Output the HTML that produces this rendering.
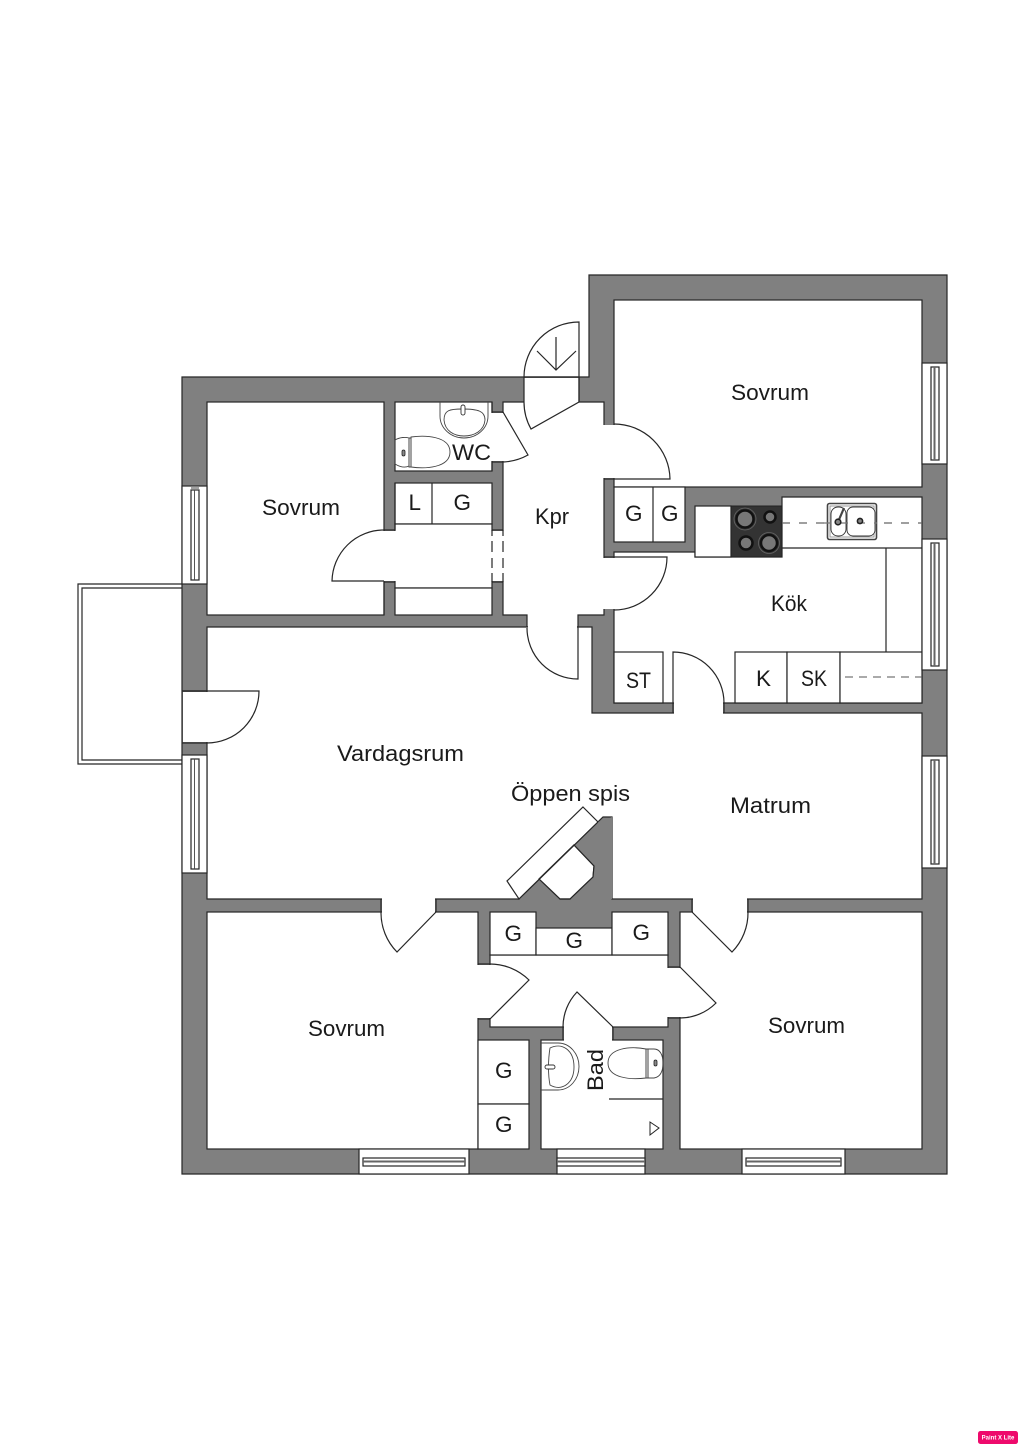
<!DOCTYPE html>
<html><head><meta charset="utf-8"><style>
html,body{margin:0;padding:0;background:#fff;width:1024px;height:1448px;overflow:hidden}
svg{display:block}
text{font-family:"Liberation Sans",sans-serif;fill:#1a1a1a;font-size:22.5px}
.w{fill:#fff;stroke:#262626;stroke-width:1.2}
.n{fill:#fff;stroke:none}
.l{fill:none;stroke:#262626;stroke-width:1.2}
.f{fill:#fff;stroke:#333;stroke-width:.9}
.m{fill:none;stroke:#444;stroke-width:.9}
</style></head><body>
<svg width="1024" height="1448" viewBox="0 0 1024 1448" xmlns="http://www.w3.org/2000/svg">
<!-- balcony -->
<path class="l" d="M182 584H78V764H182M182 588H82V760H182"/>
<!-- outer -->
<polygon points="182,377 589,377 589,275 947,275 947,1174 182,1174" fill="#808080" stroke="#262626" stroke-width="1.2"/>
<!-- rooms -->
<rect class="w" x="207" y="402" width="177" height="213"/>
<rect class="w" x="395" y="402" width="97" height="69"/>
<rect class="w" x="395" y="483" width="97" height="41"/>
<rect class="w" x="395" y="524" width="97" height="64"/>
<rect class="w" x="395" y="588" width="97" height="27"/>
<path class="l" d="M432 483V524"/>
<polygon class="w" points="503,402 604,402 604,615 578,615 578,627 527,627 527,615 503,615"/>
<rect class="w" x="614" y="300" width="308" height="187"/>
<polygon class="w" points="614,552 695,552 695,557 782,557 782,497 922,497 922,703 614,703"/>
<rect class="w" x="614" y="487" width="71" height="55"/>
<path class="l" d="M653 487V542"/>
<polygon class="w" points="207,627 592,627 592,713 922,713 922,899 612,899 612,817 603,817 519,899 207,899"/>
<rect class="w" x="207" y="912" width="271" height="237"/>
<rect class="w" x="680" y="912" width="242" height="237"/>
<rect class="w" x="490" y="955" width="178" height="72"/>
<rect class="w" x="490" y="912" width="46" height="43"/>
<rect class="w" x="536" y="928" width="76" height="27"/>
<rect class="w" x="612" y="912" width="56" height="43"/>
<rect class="w" x="541" y="1040" width="122" height="109"/>
<rect class="w" x="478" y="1040" width="51" height="64"/>
<rect class="w" x="478" y="1104" width="51" height="45"/>
<!-- door gaps -->
<rect class="n" x="524" y="378" width="55" height="25"/>
<path class="l" d="M524 377H579M579 377V402"/>
<rect class="n" x="491" y="413" width="13" height="48"/>
<path class="l" d="M492 402V412H503M492 471V462H503"/>
<rect class="n" x="603" y="425" width="12" height="53"/>
<rect class="n" x="603" y="558" width="12" height="51"/>
<rect class="n" x="383" y="531" width="13" height="50"/>
<rect class="n" x="491" y="531" width="13" height="50"/>
<path class="l" d="M384 530H395M384 582H395M492 530H503M492 582H503M384 582V615M395 530V483"/>
<rect class="n" x="528" y="614" width="49" height="14"/>
<rect class="n" x="674" y="702" width="49" height="12"/>
<path class="l" d="M673 703V713M724 703V713"/>
<rect class="n" x="382" y="898" width="53" height="15"/>
<path class="l" d="M381 899V912M436 899V912"/>
<rect class="n" x="693" y="898" width="54" height="15"/>
<path class="l" d="M692 899V912M748 899V912"/>
<rect class="n" x="477" y="965" width="14" height="53"/>
<path class="l" d="M478 964H490M478 1019H490"/>
<rect class="n" x="667" y="968" width="14" height="49"/>
<path class="l" d="M668 967H680M668 1018H680"/>
<rect class="n" x="564" y="1026" width="48" height="15"/>
<path class="l" d="M563 1027V1040M613 1027V1040"/>
<rect class="n" x="183" y="692" width="25" height="50"/>
<path class="l" d="M182 691H207M182 743H207"/>
<!-- doors -->
<path class="l" d="M524 377A55 55 0 0 1 579 322V402L531 429A55 55 0 0 1 524 402V377"/>
<path class="l" d="M556 337V370M537 351L556 370L576 351" stroke-width="1.3"/>
<path class="l" d="M503 412L528 455A56 56 0 0 1 503 462"/>
<path class="l" d="M614 424A56 56 0 0 1 670 479H604"/>
<path class="l" d="M604 557H667A53 53 0 0 1 614 610"/>
<path class="l" d="M384 530A52 52 0 0 0 332 581H384"/>
<path class="l" d="M492 530V536M492 541V552M492 558V568M492 573V582M503 530V536M503 541V552M503 558V568M503 573V582"/>
<path class="l" d="M578 627V679A51 51 0 0 1 527 628"/>
<path class="l" d="M673 703V652A51 51 0 0 1 724 703"/>
<path class="l" d="M182 691H259A52 52 0 0 1 207 743"/>
<path class="l" d="M381 912A56 56 0 0 0 397 952L436 912"/>
<path class="l" d="M692 912L732 952A56 56 0 0 0 748 912"/>
<path class="l" d="M490 964A56 56 0 0 1 529 980L490 1019"/>
<path class="l" d="M680 967L716 1003A51 51 0 0 1 680 1018"/>
<path class="l" d="M563 1027A51 51 0 0 1 577 992L613 1027"/>
<!-- fireplace -->
<polygon class="w" points="583,807 598,822 519,899 507,881"/>
<polygon class="w" points="574,845 594,866 593,877 570,899 560,899 539,879"/>
<path d="M519 899L539 879L560 899Z M574 845L598 822L612 817V899H570L593 877L594 866Z" fill="#808080"/>
<path class="l" d="M598 822L519 899M539 879L574 845L594 866L593 877L570 899H560L539 879"/>
<!-- kitchen -->
<rect class="w" x="695" y="506" width="36" height="51"/>
<rect x="731" y="506" width="51" height="51" fill="#333" stroke="#222"/>
<g fill="#777" stroke="#111" stroke-width="2.5">
<circle cx="745" cy="519" r="8.5"/><circle cx="770" cy="517" r="5.5"/><circle cx="746" cy="543" r="6.5"/><circle cx="769" cy="543" r="8"/>
</g>
<g fill="none" stroke="#666" stroke-width=".8"><circle cx="745" cy="519" r="11"/><circle cx="769" cy="543" r="10.5"/></g>
<path class="l" d="M782 548H922M886 548V652"/>
<path d="M782 523H922" stroke="#666" stroke-width="1.3" stroke-dasharray="8 9" fill="none"/>
<rect x="827.5" y="503.5" width="49" height="36" rx="2" fill="#fff" stroke="#444" stroke-width="1.6"/>
<rect x="830" y="506" width="44" height="31" fill="none" stroke="#999" stroke-width="1"/>
<rect x="831" y="507" width="15" height="29" rx="7" class="f"/>
<rect x="847" y="507" width="28" height="29" rx="6" class="f"/>
<path d="M823 523H877" stroke="#777" stroke-width="1.2" stroke-dasharray="8 9" fill="none"/>
<path d="M838 522L844 508" stroke="#444" stroke-width="2.2" fill="none"/>
<circle cx="838" cy="522" r="2.8" fill="#888" stroke="#222" stroke-width="1.6"/>
<circle cx="860" cy="521" r="2.6" fill="#888" stroke="#222" stroke-width="1.6"/>
<rect class="w" x="614" y="652" width="49" height="51"/>
<rect class="w" x="735" y="652" width="52" height="51"/>
<rect class="w" x="787" y="652" width="53" height="51"/>
<rect class="w" x="840" y="652" width="82" height="51"/>
<path d="M845 677H922" stroke="#555" stroke-width=".9" stroke-dasharray="8 6" fill="none"/>
<!-- WC fixtures -->
<path class="m" d="M440 402V416A24 22 0 0 0 488 416V402"/>
<path class="m" d="M444 420C444 410 450 409 462 409C478 409 485 411 485 420C484 431 474 436 464 436C454 436 445 431 444 420Z"/>
<rect class="f" x="461" y="405" width="4" height="10" rx="2"/>
<path class="m" d="M395 440C400 437 406 437 409 438V466C405 468 400 467 395 464Z"/>
<path class="m" d="M411 437C425 435 450 436 450 452C450 468 425 469 411 467Z"/>
<path class="m" d="M409 438H411V467H409Z"/>
<rect x="402" y="450" width="3" height="6" rx="1.5" fill="#888" stroke="#222" stroke-width=".8"/>
<!-- Bad fixtures -->
<path class="m" d="M541 1043H558A21 23.5 0 0 1 558 1090H541"/>
<path class="m" d="M550 1048C562 1042 574 1050 574 1067C574 1083 562 1092 550 1085C548 1075 548 1060 550 1048Z"/>
<rect class="f" x="545" y="1065" width="10" height="4" rx="2"/>
<path class="m" d="M646 1049C630 1046 608 1048 608 1063C608 1078 630 1080 646 1078Z"/>
<path class="m" d="M648 1049H654C660 1049 663 1055 663 1063C663 1072 660 1077 654 1078H648Z"/>
<path class="m" d="M646 1049H648V1078H646Z"/>
<rect x="654" y="1060" width="3" height="6" rx="1.5" fill="#888" stroke="#222" stroke-width=".8"/>
<path class="l" d="M609 1099H663" stroke="#555"/>
<polygon points="650,1122 659,1128 650,1135" fill="#fff" stroke="#222" stroke-width="1"/>
<!-- windows left -->
<g>
<rect class="w" x="182" y="486" width="25" height="98"/>
<rect class="w" x="191" y="490" width="8" height="90" stroke-width=".9"/><path class="m" d="M194.5 490V580M191 488H199"/>
<rect class="w" x="182" y="755" width="25" height="118"/>
<rect class="w" x="191" y="759" width="8" height="110" stroke-width=".9"/><path class="m" d="M194.5 759V869"/>
<!-- windows right -->
<rect class="w" x="922" y="363" width="25" height="101"/>
<rect class="w" x="931" y="367" width="8" height="93" stroke-width=".9"/><path d="M934.5 367V460" stroke="#666" stroke-width="2"/>
<rect class="w" x="922" y="539" width="25" height="131"/>
<rect class="w" x="931" y="543" width="8" height="123" stroke-width=".9"/><path d="M934.5 543V666" stroke="#666" stroke-width="2"/>
<rect class="w" x="922" y="756" width="25" height="112"/>
<rect class="w" x="931" y="760" width="8" height="104" stroke-width=".9"/><path d="M934.5 760V864" stroke="#666" stroke-width="2"/>
<!-- windows bottom -->
<rect class="w" x="359" y="1149" width="110" height="25"/>
<rect class="w" x="363" y="1158" width="102" height="8" stroke-width=".9"/><path d="M363 1161.5H465" stroke="#666" stroke-width="2"/>
<rect class="w" x="557" y="1149" width="88" height="25"/>
<rect class="w" x="557" y="1158" width="88" height="8" stroke-width=".9"/><path d="M557 1161.5H645" stroke="#666" stroke-width="2"/>
<rect class="w" x="742" y="1149" width="103" height="25"/>
<rect class="w" x="746" y="1158" width="95" height="8" stroke-width=".9"/><path d="M746 1161.5H841" stroke="#666" stroke-width="2"/>
</g>
<!-- labels -->
<text x="731" y="400" textLength="78" lengthAdjust="spacingAndGlyphs">Sovrum</text>
<text x="262" y="515" textLength="78" lengthAdjust="spacingAndGlyphs">Sovrum</text>
<text x="535" y="524" textLength="34" lengthAdjust="spacingAndGlyphs">Kpr</text>
<text x="452" y="460" textLength="39" lengthAdjust="spacingAndGlyphs">WC</text>
<text x="408.500" y="510">L</text>
<text x="453.500" y="510">G</text>
<text x="625" y="521">G</text>
<text x="661" y="521">G</text>
<text x="771" y="611" textLength="36" lengthAdjust="spacingAndGlyphs">Kök</text>
<text x="626" y="688" textLength="25" lengthAdjust="spacingAndGlyphs">ST</text>
<text x="756" y="686">K</text>
<text x="801" y="686" textLength="26" lengthAdjust="spacingAndGlyphs">SK</text>
<text x="337" y="761" textLength="127" lengthAdjust="spacingAndGlyphs">Vardagsrum</text>
<text x="511" y="801" textLength="119" lengthAdjust="spacingAndGlyphs">Öppen spis</text>
<text x="730" y="813" textLength="81" lengthAdjust="spacingAndGlyphs">Matrum</text>
<text x="504.500" y="941">G</text>
<text x="565.500" y="948">G</text>
<text x="632.500" y="940">G</text>
<text x="308" y="1036" textLength="77" lengthAdjust="spacingAndGlyphs">Sovrum</text>
<text x="768" y="1033" textLength="77" lengthAdjust="spacingAndGlyphs">Sovrum</text>
<text x="495" y="1078">G</text>
<text x="495" y="1132">G</text>
<text transform="translate(603 1091) rotate(-90)" textLength="42" lengthAdjust="spacingAndGlyphs">Bad</text>
<!-- badge -->
<rect x="978" y="1431" width="40" height="13" rx="2.5" fill="#ee0a6c"/>
<text x="998" y="1439.5" text-anchor="middle" style="font-size:6px;font-weight:bold;fill:#fff">Paint X Lite</text>
</svg>
</body></html>
